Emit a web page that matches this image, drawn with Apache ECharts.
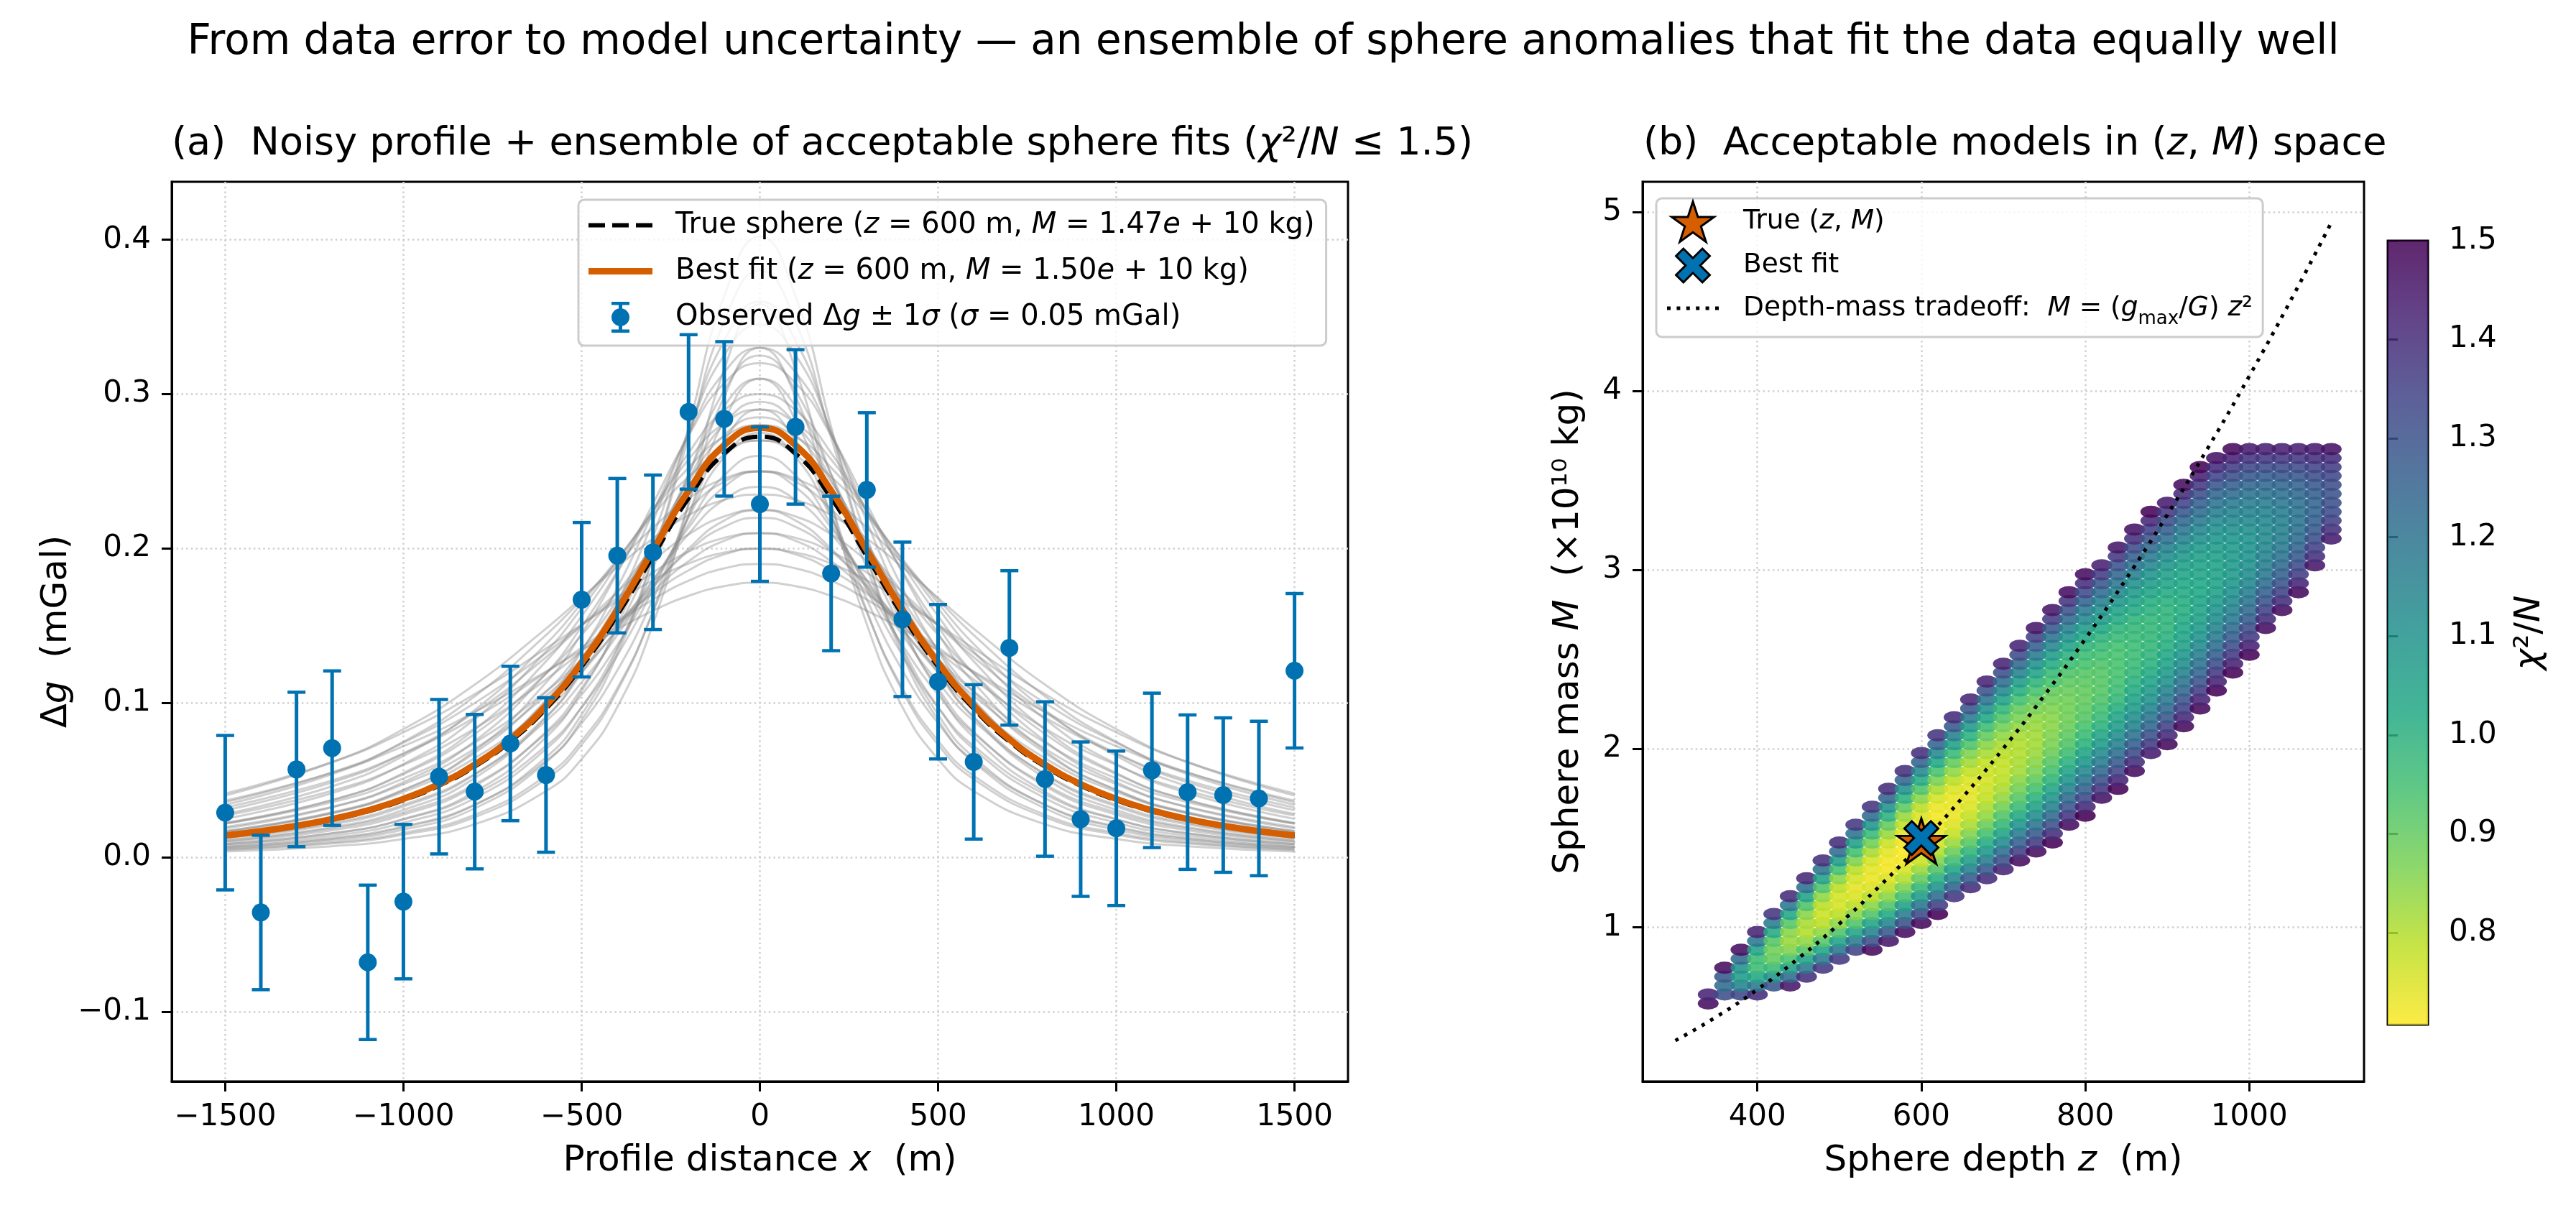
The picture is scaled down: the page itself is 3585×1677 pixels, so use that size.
<!DOCTYPE html>
<html>
<head>
<meta charset="utf-8">
<title>Sphere anomaly ensemble</title>
<script src="https://cdn.jsdelivr.net/npm/echarts@6/dist/echarts.min.js"></script>
<style>
  html, body { margin: 0; padding: 0; background: #fff; }
  #chart { width: 3585px; height: 1677px; }
</style>
</head>
<body>
<div id="chart"></div>
<script>
const FONT = 'DejaVu Sans';
const BLUE = '#0072B2';
const ORANGE = '#D55E00';

// (a) observed profile, mGal
const obsX = [-1500, -1400, -1300, -1200, -1100, -1000, -900, -800, -700, -600, -500, -400, -300, -200, -100, 0,
  100, 200, 300, 400, 500, 600, 700, 800, 900, 1000, 1100, 1200, 1300, 1400, 1500];
const obsDg = [0.029, -0.0356, 0.057, 0.0708, -0.0679, -0.0286, 0.0523, 0.0426, 0.0738, 0.0534, 0.1669, 0.1954,
  0.1976, 0.2885, 0.284, 0.2288, 0.2788, 0.1839, 0.238, 0.1542, 0.1138, 0.0619, 0.1357, 0.0508, 0.0248, 0.0189,
  0.0564, 0.0423, 0.0404, 0.0382, 0.1209];
const obsSigma = 0.05;

// true sphere and best fit, sampled at obsX
const trueDg = [0.0140, 0.0167, 0.0201, 0.0244, 0.0299, 0.0371, 0.0465, 0.0589, 0.0751, 0.0964, 0.1236, 0.1570,
  0.1950, 0.2327, 0.2615, 0.2725, 0.2615, 0.2327, 0.1950, 0.1570, 0.1236, 0.0964, 0.0751, 0.0589, 0.0465, 0.0371,
  0.0299, 0.0244, 0.0201, 0.0167, 0.0140];
const bestDg = [0.0142, 0.0170, 0.0205, 0.0249, 0.0305, 0.0379, 0.0475, 0.0601, 0.0766, 0.0983, 0.1261, 0.1602,
  0.1990, 0.2374, 0.2669, 0.2781, 0.2669, 0.2374, 0.1990, 0.1602, 0.1261, 0.0983, 0.0766, 0.0601, 0.0475, 0.0379,
  0.0305, 0.0249, 0.0205, 0.0170, 0.0142];

// ensemble of acceptable fits: half profiles (x >= 0), curves are symmetric about x = 0
const ensHalfX = [0, 100, 200, 300, 400, 500, 600, 800, 1000, 1200, 1500];
const ensembleDg = [
  [0.358, 0.316, 0.229, 0.151, 0.0974, 0.0637, 0.0430, 0.0215, 0.0120, 0.0073, 0.0039],
  [0.402, 0.3635, 0.2787, 0.1946, 0.1313, 0.0891, 0.0617, 0.0318, 0.0180, 0.0111, 0.0060],
  [0.330, 0.2984, 0.2288, 0.1597, 0.1078, 0.0731, 0.0507, 0.0261, 0.0148, 0.0091, 0.0049],
  [0.380, 0.3470, 0.2719, 0.1946, 0.1344, 0.0926, 0.0649, 0.0340, 0.0195, 0.0120, 0.0065],
  [0.310, 0.2831, 0.2218, 0.1587, 0.1096, 0.0756, 0.0529, 0.0277, 0.0159, 0.0098, 0.0053],
  [0.360, 0.3347, 0.2747, 0.2074, 0.1504, 0.1078, 0.0778, 0.0425, 0.0249, 0.0156, 0.0086],
  [0.325, 0.3022, 0.2480, 0.1872, 0.1358, 0.0973, 0.0702, 0.0384, 0.0225, 0.0141, 0.0077],
  [0.290, 0.2696, 0.2213, 0.1670, 0.1211, 0.0869, 0.0626, 0.0342, 0.0201, 0.0126, 0.0069],
  [0.345, 0.3253, 0.2761, 0.2175, 0.1643, 0.1220, 0.0905, 0.0514, 0.0308, 0.0196, 0.0109],
  [0.310, 0.2923, 0.2481, 0.1955, 0.1476, 0.1096, 0.0813, 0.0462, 0.0277, 0.0176, 0.0098],
  [0.275, 0.2593, 0.2201, 0.1734, 0.1309, 0.0972, 0.0722, 0.0409, 0.0246, 0.0156, 0.0087],
  [0.330, 0.3141, 0.2739, 0.2233, 0.1746, 0.1337, 0.1019, 0.0600, 0.0370, 0.0239, 0.0135],
  [0.295, 0.2808, 0.2448, 0.1996, 0.1561, 0.1196, 0.0911, 0.0537, 0.0330, 0.0214, 0.0120],
  [0.260, 0.2474, 0.2158, 0.1759, 0.1376, 0.1054, 0.0803, 0.0473, 0.0291, 0.0189, 0.0106],
  [0.320, 0.3071, 0.2732, 0.2290, 0.1843, 0.1451, 0.1132, 0.0691, 0.0436, 0.0286, 0.0164],
  [0.285, 0.2735, 0.2433, 0.2039, 0.1642, 0.1292, 0.1008, 0.0616, 0.0388, 0.0255, 0.0146],
  [0.250, 0.2399, 0.2135, 0.1789, 0.1440, 0.1134, 0.0884, 0.0540, 0.0341, 0.0224, 0.0128],
  [0.300, 0.2896, 0.2619, 0.2246, 0.1853, 0.1495, 0.1191, 0.0753, 0.0487, 0.0325, 0.0189],
  [0.270, 0.2607, 0.2357, 0.2021, 0.1668, 0.1345, 0.1072, 0.0677, 0.0438, 0.0292, 0.0170],
  [0.240, 0.2317, 0.2095, 0.1796, 0.1483, 0.1196, 0.0953, 0.0602, 0.0390, 0.0260, 0.0151],
  [0.290, 0.2812, 0.2577, 0.2252, 0.1898, 0.1563, 0.1270, 0.0828, 0.0547, 0.0371, 0.0220],
  [0.225, 0.2182, 0.1999, 0.1747, 0.1473, 0.1213, 0.0985, 0.0643, 0.0425, 0.0288, 0.0171],
  [0.280, 0.2725, 0.2524, 0.2241, 0.1924, 0.1613, 0.1333, 0.0896, 0.0605, 0.0417, 0.0250],
  [0.250, 0.2433, 0.2254, 0.2001, 0.1718, 0.1440, 0.1190, 0.0800, 0.0540, 0.0372, 0.0224],
  [0.220, 0.2141, 0.1984, 0.1761, 0.1511, 0.1267, 0.1047, 0.0704, 0.0475, 0.0328, 0.0197],
  [0.270, 0.2636, 0.2465, 0.2216, 0.1932, 0.1647, 0.1382, 0.0955, 0.0658, 0.0461, 0.0282],
  [0.210, 0.2050, 0.1918, 0.1723, 0.1503, 0.1281, 0.1075, 0.0743, 0.0512, 0.0358, 0.0219],
  [0.250, 0.2453, 0.2324, 0.2135, 0.1908, 0.1670, 0.1440, 0.1044, 0.0749, 0.0540, 0.0341],
  [0.225, 0.2208, 0.2092, 0.1921, 0.1717, 0.1503, 0.1296, 0.0940, 0.0674, 0.0486, 0.0306],
  [0.200, 0.1962, 0.1859, 0.1708, 0.1526, 0.1336, 0.1152, 0.0835, 0.0599, 0.0432, 0.0272],
  [0.235, 0.2315, 0.2216, 0.2065, 0.1881, 0.1681, 0.1482, 0.1119, 0.0831, 0.0617, 0.0401],
  [0.210, 0.2069, 0.1980, 0.1845, 0.1681, 0.1503, 0.1324, 0.1000, 0.0743, 0.0551, 0.0358],
  [0.190, 0.1872, 0.1792, 0.1670, 0.1521, 0.1359, 0.1198, 0.0905, 0.0672, 0.0499, 0.0324],
  [0.200, 0.1974, 0.1903, 0.1795, 0.1660, 0.1509, 0.1353, 0.1058, 0.0811, 0.0617, 0.0414],
  [0.178, 0.1757, 0.1694, 0.1598, 0.1477, 0.1343, 0.1204, 0.0942, 0.0721, 0.0549, 0.0368]
];

// (b) depth-mass tradeoff curve, M in 1e10 kg
const tradeZ = [300, 350, 400, 450, 500, 550, 600, 650, 700, 750, 800, 850, 900, 950, 1000, 1050, 1100];
const tradeM = [0.3675, 0.5002, 0.6533, 0.8269, 1.0208, 1.2352, 1.47, 1.7252, 2.0008, 2.2969, 2.6133, 2.9502,
  3.3075, 3.6852, 4.0833, 4.5019, 4.9408];

// (b) acceptable grid models: one column per depth, rows every chiStepM from chiStartM
const chiZ = [340, 360, 380, 400, 420, 440, 460, 480, 500, 520, 540, 560, 580, 600, 620, 640, 660, 680, 700, 720,
  740, 760, 780, 800, 820, 840, 860, 880, 900, 920, 940, 960, 980, 1000, 1020, 1040, 1060, 1080, 1100];
const chiStartM = [0.575, 0.625, 0.625, 0.625, 0.675, 0.675, 0.725, 0.775, 0.825, 0.875, 0.875, 0.925, 0.975, 1.025,
  1.075, 1.175, 1.225, 1.275, 1.325, 1.375, 1.425, 1.475, 1.575, 1.625, 1.725, 1.775, 1.875, 1.975, 2.025, 2.125,
  2.225, 2.325, 2.425, 2.525, 2.675, 2.775, 2.875, 3.025, 3.175];
const chiStepM = 0.05;
const chiVals = [
  [1.47, 1.42],
  [1.31, 1.22, 1.28, 1.47],
  [1.33, 1.15, 1.07, 1.10, 1.23, 1.47],
  [1.40, 1.18, 1.03, 0.96, 0.96, 1.04, 1.19, 1.42],
  [1.29, 1.10, 0.97, 0.90, 0.88, 0.92, 1.02, 1.17, 1.38],
  [1.45, 1.23, 1.06, 0.94, 0.86, 0.83, 0.85, 0.92, 1.03, 1.19, 1.40],
  [1.39, 1.19, 1.04, 0.92, 0.84, 0.80, 0.81, 0.85, 0.93, 1.05, 1.21, 1.41],
  [1.37, 1.19, 1.04, 0.92, 0.84, 0.79, 0.77, 0.79, 0.84, 0.93, 1.05, 1.20, 1.39],
  [1.37, 1.20, 1.05, 0.93, 0.84, 0.79, 0.76, 0.76, 0.79, 0.85, 0.95, 1.07, 1.22, 1.40],
  [1.34, 1.18, 1.04, 0.93, 0.85, 0.79, 0.75, 0.74, 0.76, 0.79, 0.86, 0.95, 1.06, 1.20, 1.37],
  [1.48, 1.31, 1.16, 1.04, 0.93, 0.85, 0.79, 0.75, 0.73, 0.74, 0.76, 0.81, 0.88, 0.97, 1.09, 1.22, 1.38],
  [1.45, 1.29, 1.15, 1.03, 0.93, 0.85, 0.79, 0.75, 0.72, 0.72, 0.74, 0.77, 0.83, 0.90, 1.00, 1.11, 1.25, 1.40],
  [1.47, 1.31, 1.18, 1.06, 0.95, 0.87, 0.80, 0.76, 0.72, 0.71, 0.72, 0.74, 0.78, 0.83, 0.91, 1.00, 1.11, 1.24, 1.39],
  [1.48, 1.33, 1.20, 1.08, 0.98, 0.90, 0.83, 0.77, 0.74, 0.71, 0.71, 0.72, 0.75, 0.79, 0.85, 0.93, 1.02, 1.13, 1.25, 1.39],
  [1.50, 1.36, 1.23, 1.11, 1.01, 0.93, 0.86, 0.80, 0.76, 0.73, 0.72, 0.72, 0.73, 0.76, 0.81, 0.87, 0.94, 1.03, 1.13, 1.25, 1.38],
  [1.38, 1.26, 1.15, 1.05, 0.96, 0.89, 0.83, 0.78, 0.75, 0.73, 0.73, 0.73, 0.75, 0.79, 0.84, 0.90, 0.97, 1.06, 1.16, 1.28, 1.40],
  [1.40, 1.28, 1.17, 1.07, 0.99, 0.92, 0.86, 0.81, 0.78, 0.75, 0.74, 0.74, 0.75, 0.78, 0.82, 0.86, 0.93, 1.00, 1.08, 1.18, 1.29, 1.41],
  [1.40, 1.29, 1.18, 1.09, 1.02, 0.95, 0.89, 0.84, 0.81, 0.78, 0.77, 0.76, 0.77, 0.78, 0.81, 0.85, 0.90, 0.96, 1.03, 1.11, 1.20, 1.30, 1.42],
  [1.42, 1.31, 1.22, 1.13, 1.05, 0.98, 0.93, 0.88, 0.84, 0.81, 0.79, 0.78, 0.78, 0.79, 0.81, 0.84, 0.88, 0.93, 0.98, 1.05, 1.13, 1.22, 1.31, 1.42],
  [1.47, 1.36, 1.27, 1.18, 1.10, 1.03, 0.97, 0.92, 0.88, 0.85, 0.82, 0.81, 0.80, 0.80, 0.81, 0.84, 0.87, 0.90, 0.95, 1.01, 1.07, 1.15, 1.23, 1.32, 1.42],
  [1.47, 1.37, 1.28, 1.20, 1.12, 1.06, 1.00, 0.95, 0.91, 0.87, 0.85, 0.83, 0.82, 0.82, 0.83, 0.84, 0.87, 0.90, 0.94, 0.99, 1.04, 1.11, 1.18, 1.26, 1.35, 1.45],
  [1.49, 1.40, 1.31, 1.23, 1.16, 1.10, 1.04, 0.99, 0.95, 0.92, 0.89, 0.87, 0.86, 0.85, 0.85, 0.86, 0.88, 0.90, 0.94, 0.97, 1.02, 1.07, 1.14, 1.20, 1.28, 1.36, 1.45],
  [1.47, 1.38, 1.30, 1.23, 1.16, 1.10, 1.05, 1.00, 0.96, 0.93, 0.91, 0.89, 0.88, 0.88, 0.88, 0.89, 0.91, 0.93, 0.96, 1.00, 1.05, 1.10, 1.16, 1.23, 1.30, 1.38, 1.47],
  [1.50, 1.41, 1.33, 1.26, 1.20, 1.14, 1.09, 1.04, 1.00, 0.97, 0.94, 0.92, 0.91, 0.90, 0.90, 0.91, 0.92, 0.94, 0.96, 0.99, 1.03, 1.07, 1.13, 1.18, 1.25, 1.32, 1.39, 1.47],
  [1.46, 1.38, 1.31, 1.24, 1.18, 1.13, 1.08, 1.04, 1.00, 0.97, 0.95, 0.93, 0.92, 0.92, 0.92, 0.93, 0.95, 0.97, 0.99, 1.03, 1.07, 1.11, 1.16, 1.22, 1.29, 1.36, 1.43],
  [1.49, 1.42, 1.34, 1.28, 1.22, 1.16, 1.12, 1.07, 1.04, 1.01, 0.98, 0.96, 0.95, 0.94, 0.94, 0.94, 0.95, 0.97, 0.99, 1.02, 1.05, 1.09, 1.14, 1.19, 1.24, 1.30, 1.37, 1.45],
  [1.47, 1.40, 1.33, 1.27, 1.21, 1.16, 1.12, 1.08, 1.05, 1.02, 1.00, 0.98, 0.97, 0.96, 0.96, 0.97, 0.98, 0.99, 1.02, 1.04, 1.08, 1.11, 1.16, 1.21, 1.26, 1.32, 1.39, 1.46],
  [1.44, 1.37, 1.31, 1.25, 1.20, 1.15, 1.11, 1.08, 1.05, 1.02, 1.00, 0.99, 0.98, 0.98, 0.98, 0.98, 1.00, 1.01, 1.04, 1.07, 1.10, 1.14, 1.18, 1.23, 1.29, 1.35, 1.41, 1.49],
  [1.48, 1.41, 1.35, 1.29, 1.24, 1.19, 1.15, 1.11, 1.08, 1.05, 1.03, 1.01, 1.00, 0.99, 0.99, 0.99, 1.00, 1.02, 1.04, 1.06, 1.09, 1.12, 1.16, 1.21, 1.26, 1.31, 1.37, 1.44],
  [1.48, 1.41, 1.35, 1.30, 1.24, 1.20, 1.16, 1.12, 1.09, 1.06, 1.04, 1.03, 1.02, 1.01, 1.01, 1.02, 1.03, 1.04, 1.06, 1.08, 1.11, 1.15, 1.19, 1.23, 1.28, 1.34, 1.40, 1.47],
  [1.48, 1.42, 1.36, 1.30, 1.25, 1.21, 1.17, 1.13, 1.10, 1.08, 1.06, 1.04, 1.04, 1.03, 1.03, 1.04, 1.05, 1.06, 1.08, 1.11, 1.14, 1.18, 1.22, 1.26, 1.31, 1.37, 1.43, 1.49],
  [1.49, 1.43, 1.37, 1.32, 1.27, 1.22, 1.18, 1.15, 1.12, 1.10, 1.08, 1.06, 1.05, 1.05, 1.05, 1.06, 1.07, 1.09, 1.11, 1.13, 1.17, 1.20, 1.24, 1.29, 1.34, 1.40, 1.46],
  [1.49, 1.43, 1.37, 1.32, 1.27, 1.23, 1.19, 1.16, 1.13, 1.11, 1.09, 1.08, 1.08, 1.08, 1.08, 1.09, 1.11, 1.13, 1.15, 1.18, 1.22, 1.26, 1.31, 1.36, 1.42, 1.48],
  [1.49, 1.43, 1.37, 1.32, 1.27, 1.23, 1.20, 1.17, 1.14, 1.12, 1.11, 1.10, 1.10, 1.10, 1.11, 1.13, 1.15, 1.17, 1.20, 1.24, 1.28, 1.33, 1.38, 1.44],
  [1.47, 1.40, 1.35, 1.30, 1.26, 1.22, 1.19, 1.17, 1.15, 1.14, 1.13, 1.13, 1.14, 1.15, 1.17, 1.20, 1.23, 1.27, 1.32, 1.37, 1.43],
  [1.47, 1.40, 1.35, 1.30, 1.26, 1.23, 1.20, 1.18, 1.17, 1.16, 1.16, 1.17, 1.19, 1.21, 1.24, 1.28, 1.32, 1.37, 1.43],
  [1.48, 1.42, 1.36, 1.32, 1.28, 1.25, 1.22, 1.21, 1.20, 1.20, 1.21, 1.23, 1.25, 1.28, 1.32, 1.37, 1.43],
  [1.45, 1.39, 1.35, 1.31, 1.28, 1.26, 1.25, 1.25, 1.26, 1.28, 1.31, 1.34, 1.39, 1.44],
  [1.44, 1.39, 1.35, 1.32, 1.31, 1.30, 1.31, 1.33, 1.36, 1.40, 1.46]
];
const trueModel = [600, 1.47];
const bestModel = [600, 1.50];

// axis ticks
const xTicksA = [-1500, -1000, -500, 0, 500, 1000, 1500];
const yTicksA = [-0.1, 0, 0.1, 0.2, 0.3, 0.4];
const xTicksB = [400, 600, 800, 1000];
const yTicksB = [1, 2, 3, 4, 5];
const cbTicks = [0.8, 0.9, 1.0, 1.1, 1.2, 1.3, 1.4, 1.5];
const cbRange = [0.707, 1.5];

const VIRIDIS = ['#440154', '#482475', '#414487', '#355f8d', '#2a788e', '#21918c', '#22a884', '#44bf70',
  '#7ad151', '#bddf26', '#fde725'];

const STAR = 'path://M0,-100L22.45,-30.9L95.11,-30.9L36.33,11.8L58.78,80.9L0,38.2L-58.78,80.9L-36.33,11.8L-95.11,-30.9L-22.45,-30.9Z';
const XMARK = 'path://M-50.9,90.5L0,39.6L50.9,90.5L90.5,50.9L39.6,0L90.5,-50.9L50.9,-90.5L0,-39.6L-50.9,-90.5L-90.5,-50.9L-39.6,0L-90.5,50.9Z';

// legend handles; the zero-length corner segments pin each icon box to itemWidth x itemHeight
const XMARK_LEGEND = 'path://M-108,-108L-108,-108M108,108L108,108M-50.9,90.5L0,39.6L50.9,90.5L90.5,50.9L39.6,0L90.5,-50.9L50.9,-90.5L0,-39.6L-50.9,-90.5L-90.5,-50.9L-39.6,0L-90.5,50.9Z';
const ERRBAR_ICON = 'path://M0,0L0,0M89,43L89,43M42,4.5L47,4.5L47,38.5L42,38.5ZM32,0L57,0L57,4.5L32,4.5ZM32,38.5L57,38.5L57,43L32,43ZM57,21.5A12.5,12.5,0,1,1,32,21.5A12.5,12.5,0,1,1,57,21.5Z';
const DASH_ICON = 'path://M0,0L0,0M89,43L89,43M0,18.5L23,18.5L23,24.5L0,24.5ZM33,18.5L56,18.5L56,24.5L33,24.5ZM66,18.5L89,18.5L89,24.5L66,24.5Z';
const SOLID_ICON = 'path://M0,0L0,0M89,43L89,43M0,17L89,17L89,26L0,26Z';
const DOT_ICON = 'path://M0,0L0,0M72,56L72,56M0,25.5L5,25.5L5,30.5L0,30.5ZM13.4,25.5L18.4,25.5L18.4,30.5L13.4,30.5ZM26.8,25.5L31.8,25.5L31.8,30.5L26.8,30.5ZM40.2,25.5L45.2,25.5L45.2,30.5L40.2,30.5ZM53.6,25.5L58.6,25.5L58.6,30.5L53.6,30.5ZM67,25.5L72,25.5L72,30.5L67,30.5Z';

function mathRich(size, extra) {
  const base = { fontFamily: FONT, fontSize: size, color: '#000' };
  return Object.assign({
    t: Object.assign({}, base),
    i: Object.assign({}, base, { fontStyle: 'italic' })
  }, extra || {});
}

function tickText(v, digits) {
  const s = Math.abs(v).toFixed(digits);
  return v < -1e-9 ? '\u2212' + s : s;
}

function onTick(list) {
  return (v) => list.some((t) => Math.abs(t - v) < 1e-6);
}

function axisCommon(ticks, digits, fontSize) {
  const isTick = onTick(ticks);
  return {
    axisLine: { show: true, onZero: false, lineStyle: { color: '#000', width: 3 } },
    axisTick: { show: true, length: 14, customValues: ticks, lineStyle: { color: '#000', width: 3 } },
    axisLabel: {
      customValues: ticks,
      margin: 29,
      color: '#000',
      fontFamily: FONT,
      fontSize: fontSize,
      formatter: (v) => (isTick(v) ? tickText(v, digits) : '')
    },
    splitLine: { show: true, lineStyle: { color: '#cfcfcf', width: 2.5, type: [2.5, 4.2] } }
  };
}

// full symmetric ensemble profiles from the stored halves
const ensX = ensHalfX.slice(1).reverse().map((v) => -v).concat(ensHalfX);
const ensSeries = ensembleDg.map((half) => {
  const vals = half.slice(1).reverse().concat(half);
  return {
    type: 'line',
    xAxisIndex: 0,
    yAxisIndex: 0,
    smooth: true,
    symbol: 'none',
    silent: true,
    lineStyle: { color: '#8a8a8a', width: 3, opacity: 0.4 },
    data: ensX.map((x, i) => [x, vals[i]]),
    z: 2
  };
});

const chiData = [];
chiZ.forEach((z, i) => {
  chiVals[i].forEach((c, k) => {
    chiData.push([z, +(chiStartM[i] + k * chiStepM).toFixed(3), c]);
  });
});

const series = ensSeries.concat([
  {
    type: 'line',
    name: 'trueCurve',
    xAxisIndex: 0,
    yAxisIndex: 0,
    symbol: 'none',
    smooth: true,
    lineStyle: { color: '#000', width: 6, type: [23, 10] },
    itemStyle: { color: '#000' },
    data: obsX.map((x, i) => [x, trueDg[i]]),
    z: 3
  },
  {
    type: 'line',
    name: 'bestCurve',
    xAxisIndex: 0,
    yAxisIndex: 0,
    symbol: 'none',
    smooth: true,
    lineStyle: { color: ORANGE, width: 9 },
    itemStyle: { color: ORANGE },
    data: obsX.map((x, i) => [x, bestDg[i]]),
    z: 4
  },
  {
    type: 'custom',
    name: 'observed',
    xAxisIndex: 0,
    yAxisIndex: 0,
    itemStyle: { color: BLUE },
    encode: { x: 0, y: 1 },
    data: obsX.map((x, i) => [x, obsDg[i], obsSigma]),
    z: 5,
    renderItem(params, api) {
      const x = api.value(0);
      const y = api.value(1);
      const e = api.value(2);
      const top = api.coord([x, y + e]);
      const bot = api.coord([x, y - e]);
      const mid = api.coord([x, y]);
      const cap = { stroke: BLUE, lineWidth: 4.5 };
      return {
        type: 'group',
        children: [
          { type: 'line', shape: { x1: top[0], y1: top[1], x2: bot[0], y2: bot[1] }, style: { stroke: BLUE, lineWidth: 5 } },
          { type: 'line', shape: { x1: top[0] - 12.5, y1: top[1], x2: top[0] + 12.5, y2: top[1] }, style: cap },
          { type: 'line', shape: { x1: bot[0] - 12.5, y1: bot[1], x2: bot[0] + 12.5, y2: bot[1] }, style: cap },
          { type: 'circle', shape: { cx: mid[0], cy: mid[1], r: 12.5 }, style: { fill: BLUE } }
        ]
      };
    }
  },
  {
    type: 'scatter',
    name: 'chi',
    xAxisIndex: 1,
    yAxisIndex: 1,
    symbol: 'circle',
    symbolSize: [29, 17],
    itemStyle: { opacity: 0.88 },
    silent: true,
    data: chiData,
    z: 2
  },
  {
    type: 'line',
    name: 'tradeoff',
    xAxisIndex: 1,
    yAxisIndex: 1,
    symbol: 'none',
    smooth: true,
    lineStyle: { color: '#000', width: 5, type: [5, 9] },
    itemStyle: { color: '#000' },
    data: tradeZ.map((z, i) => [z, tradeM[i]]),
    z: 3
  },
  {
    type: 'scatter',
    name: 'trueModel',
    xAxisIndex: 1,
    yAxisIndex: 1,
    symbol: STAR,
    symbolSize: [67, 63],
    symbolOffset: [0, -3],
    itemStyle: { color: ORANGE, borderColor: '#000', borderWidth: 3, opacity: 1 },
    data: [trueModel],
    z: 6
  },
  {
    type: 'scatter',
    name: 'bestModel',
    xAxisIndex: 1,
    yAxisIndex: 1,
    symbol: XMARK,
    symbolSize: 47,
    itemStyle: { color: BLUE, borderColor: '#000', borderWidth: 3, opacity: 1 },
    data: [bestModel],
    z: 7
  },
  {
    type: 'custom',
    name: 'colorbar',
    xAxisIndex: 2,
    yAxisIndex: 2,
    silent: true,
    data: [[0, cbRange[0], 1, cbRange[1]]],
    renderItem(params, api) {
      const p0 = api.coord([api.value(0), api.value(3)]);
      const p1 = api.coord([api.value(2), api.value(1)]);
      return {
        type: 'rect',
        shape: { x: p0[0], y: p0[1], width: p1[0] - p0[0], height: p1[1] - p0[1] },
        style: {
          fill: new echarts.graphic.LinearGradient(0, 0, 0, 1,
            VIRIDIS.map((c, i) => ({ offset: i / (VIRIDIS.length - 1), color: c }))),
          opacity: 0.85
        }
      };
    }
  }
]);

const chiSeriesIndex = series.findIndex((s) => s.name === 'chi');

const legendText = {
  trueCurve: '{sp| }{t|True sphere (}{i|z}{t| = 600 m, }{i|M}{t| = 1.47}{i|e}{t| + 10 kg)}',
  bestCurve: '{sp| }{t|Best fit (}{i|z}{t| = 600 m, }{i|M}{t| = 1.50}{i|e}{t| + 10 kg)}',
  observed: '{sp| }{t|Observed \u0394}{i|g}{t| \u00b1 1}{i|\u03c3}{t| (}{i|\u03c3}{t| = 0.05 mGal)}',
  trueModel: '{sp| }{t|True (}{i|z}{t|, }{i|M}{t|)}',
  bestModel: '{sp| }{t|Best fit}',
  tradeoff: '{sp| }{t|Depth-mass tradeoff:  }{i|M}{t| = (}{i|g}{sub|max}{t|/}{i|G}{t|) }{i|z}{t|\u00b2}'
};

const richA = mathRich(40, { sp: { width: 27 } });
richA.t.lineHeight = 43;
richA.i.lineHeight = 43;
const richB = mathRich(37.5, {
  sp: { width: 29 },
  sub: { fontFamily: FONT, fontSize: 26, color: '#000', fontStyle: 'normal', verticalAlign: 'bottom', lineHeight: 44 }
});
richB.t.lineHeight = 56;
richB.i.lineHeight = 56;

const titleRich = mathRich(54);
const labelRich = mathRich(50);

const option = {
  animation: false,
  backgroundColor: '#fff',
  textStyle: { fontFamily: FONT, color: '#000' },
  graphic: [
    {
      type: 'text', x: 1758, y: 60,
      style: {
        text: 'From data error to model uncertainty \u2014 an ensemble of sphere anomalies that fit the data equally well',
        fontFamily: FONT, fontSize: 58, fill: '#000',
        align: 'center', verticalAlign: 'middle', textAlign: 'center', textVerticalAlign: 'middle'
      }
    },
    {
      type: 'text', x: 239, y: 201,
      style: {
        text: '{t|(a)  Noisy profile + ensemble of acceptable sphere fits (}{i|\u03c7}{t|\u00b2/}{i|N}{t| \u2264 1.5)}',
        rich: titleRich, align: 'left', verticalAlign: 'middle', textAlign: 'left', textVerticalAlign: 'middle'
      }
    },
    {
      type: 'text', x: 2287, y: 201,
      style: {
        text: '{t|(b)  Acceptable models in (}{i|z}{t|, }{i|M}{t|) space}',
        rich: titleRich, align: 'left', verticalAlign: 'middle', textAlign: 'left', textVerticalAlign: 'middle'
      }
    }
  ],
  legend: [
    {
      left: 805, top: 278, orient: 'vertical',
      itemWidth: 89, itemHeight: 43, itemGap: 21,
      padding: [14, 16, 18, 14],
      backgroundColor: 'rgba(255,255,255,0.8)', borderColor: '#cccccc', borderWidth: 3, borderRadius: 8,
      selectedMode: false,
      data: [
        { name: 'trueCurve', icon: DASH_ICON, itemStyle: { color: '#000', borderWidth: 0 } },
        { name: 'bestCurve', icon: SOLID_ICON, itemStyle: { color: ORANGE, borderWidth: 0 } },
        { name: 'observed', icon: ERRBAR_ICON, itemStyle: { color: BLUE, borderWidth: 0 } }
      ],
      formatter: (n) => legendText[n],
      textStyle: { fontFamily: FONT, fontSize: 40, color: '#000', lineHeight: 43, rich: richA }
    },
    {
      left: 2305, top: 276, orient: 'vertical',
      itemWidth: 72, itemHeight: 56, itemGap: 2,
      padding: [3, 14, 12, 15],
      backgroundColor: 'rgba(255,255,255,0.8)', borderColor: '#cccccc', borderWidth: 3, borderRadius: 8,
      selectedMode: false,
      data: [
        { name: 'trueModel', itemStyle: { borderWidth: 3, borderColor: '#000' } },
        { name: 'bestModel', icon: XMARK_LEGEND, itemStyle: { borderWidth: 3, borderColor: '#000' } },
        { name: 'tradeoff', icon: DOT_ICON, itemStyle: { color: '#000', borderWidth: 0 } }
      ],
      formatter: (n) => legendText[n],
      textStyle: { fontFamily: FONT, fontSize: 37.5, color: '#000', lineHeight: 56, rich: richB }
    }
  ],
  visualMap: {
    type: 'continuous',
    show: false,
    seriesIndex: chiSeriesIndex,
    dimension: 2,
    min: cbRange[0],
    max: cbRange[1],
    inRange: { color: VIRIDIS.slice().reverse() }
  },
  grid: [
    { left: 239, top: 253, width: 1637, height: 1252, show: true, borderColor: '#000', borderWidth: 3, backgroundColor: 'transparent' },
    { left: 2286, top: 253, width: 1004, height: 1252, show: true, borderColor: '#000', borderWidth: 3, backgroundColor: 'transparent' },
    { left: 3323, top: 335, width: 56, height: 1091, show: true, borderColor: '#000', borderWidth: 3, backgroundColor: 'transparent' }
  ],
  xAxis: [
    Object.assign({
      type: 'value', gridIndex: 0, min: -1650, max: 1650,
      name: '{t|Profile distance }{i|x}{t|  (m)}',
      nameLocation: 'middle', nameGap: 86,
      nameTextStyle: { rich: labelRich }
    }, axisCommon(xTicksA, 0, 42)),
    Object.assign({
      type: 'value', gridIndex: 1, min: 260, max: 1140,
      name: '{t|Sphere depth }{i|z}{t|  (m)}',
      nameLocation: 'middle', nameGap: 86,
      nameTextStyle: { rich: labelRich }
    }, axisCommon(xTicksB, 0, 42)),
    { type: 'value', gridIndex: 2, min: 0, max: 1, show: false }
  ],
  yAxis: [
    Object.assign({
      type: 'value', gridIndex: 0, min: -0.145, max: 0.4375,
      name: '{t|\u0394}{i|g}{t|  (mGal)}',
      nameLocation: 'middle', nameGap: 100, nameRotate: 90,
      nameTextStyle: { rich: labelRich }
    }, axisCommon(yTicksA, 1, 42)),
    Object.assign({
      type: 'value', gridIndex: 1, min: 0.139, max: 5.17,
      name: '{t|Sphere mass }{i|M}{t|  (\u00d710\u00b9\u2070 kg)}',
      nameLocation: 'middle', nameGap: 78, nameRotate: 90,
      nameTextStyle: { rich: labelRich }
    }, axisCommon(yTicksB, 0, 42)),
    Object.assign({
      type: 'value', gridIndex: 2, min: cbRange[0], max: cbRange[1], position: 'right',
      name: '{i|\u03c7}{t|\u00b2/}{i|N}',
      nameLocation: 'middle', nameGap: 117, nameRotate: 90,
      nameTextStyle: { rich: labelRich }
    }, axisCommon(cbTicks, 1, 42), { splitLine: { show: false }, axisLine: { show: false } })
  ],
  series: series
};

const chart = echarts.init(document.getElementById('chart'), null, { renderer: 'canvas' });
chart.setOption(option);
</script>
</body>
</html>
